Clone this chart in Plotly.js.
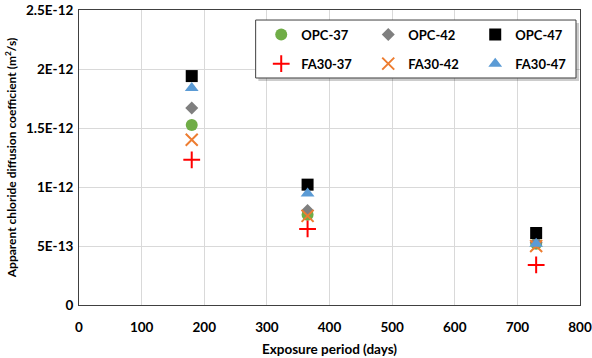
<!DOCTYPE html>
<html><head><meta charset="utf-8">
<script src="https://cdn.plot.ly/plotly-3.0.1.min.js"></script>
<style>html,body{margin:0;padding:0;background:#fff}#chart{width:592px;height:358px}</style>
</head><body><div id="chart"></div>
<script>
const days = [180, 365, 730];
const opc37 = [1.525e-12, 0.765e-12, 0.52e-12];
const opc42 = [1.67e-12, 0.80e-12, 0.53e-12];
const opc47 = [1.94e-12, 1.02e-12, 0.61e-12];
const fa37 = [1.23e-12, 0.645e-12, 0.34e-12];
const fa42 = [1.40e-12, 0.755e-12, 0.50e-12];
const fa47 = [1.84e-12, 0.945e-12, 0.52e-12];
const yTickVals = [0, 5e-13, 1e-12, 1.5e-12, 2e-12, 2.5e-12];
const yTickText = ['0', '5E-13', '1E-12', '1.5E-12', '2E-12', '2.5E-12'];

const FONT = 'Lato, "Open Sans", sans-serif';
function tr(name, y, symbol, color, size, legend) {
  return {x: days, y: y, name: name, type: 'scatter', mode: 'markers', legend: legend,
    marker: {symbol: symbol, color: color, size: size, line: {width: 0}}};
}
const data = [
  tr('OPC-37', opc37, 'circle', '#70ad47', 12, 'legend'),
  tr('OPC-42', opc42, 'diamond', '#7f7f7f', 10, 'legend'),
  tr('OPC-47', opc47, 'square', '#000000', 12, 'legend'),
  tr('FA30-37', fa37, 'cross-thin-open', '#ff0000', 12, 'legend2'),
  tr('FA30-42', fa42, 'x-thin-open', '#ed7d31', 12, 'legend2'),
  tr('FA30-47', fa47, 'triangle-up', '#5b9bd5', 12, 'legend2')
];
data[3].marker.line = {width: 2, color: '#ff0000'};
data[4].marker.line = {width: 2, color: '#ed7d31'};

const legCommon = {orientation: 'h', bgcolor: 'rgba(0,0,0,0)', borderwidth: 0,
  font: {family: FONT, size: 13, color: '#000', weight: 'bold'},
  entrywidth: 62, entrywidthmode: 'pixels',
  xref: 'paper', yref: 'paper', xanchor: 'left', yanchor: 'middle'};

const layout = {
  width: 592, height: 358,
  margin: {l: 79, r: 11, t: 10, b: 53},
  paper_bgcolor: '#fff', plot_bgcolor: '#fff',
  font: {family: FONT, size: 12, color: '#000'},
  showlegend: true,
  legend: Object.assign({}, legCommon, {x: 0.363, y: 0.917}),
  legend2: Object.assign({}, legCommon, {x: 0.363, y: 0.818}),
  xaxis: {range: [0, 800], dtick: 100, tick0: 0, showgrid: true, gridcolor: '#d9d9d9',
    showline: true, linecolor: '#404040', linewidth: 1, mirror: true, zeroline: false,
    ticks: '', ticklabelstandoff: 10, tickfont: {family: FONT, size: 13.5, weight: 'bold'},
    title: {text: 'Exposure period (days)', font: {family: FONT, size: 13.5, weight: 'bold'}, standoff: 10}},
  yaxis: {range: [0, 2.5e-12], tickvals: yTickVals, ticktext: yTickText, showgrid: true, gridcolor: '#d9d9d9',
    showline: true, linecolor: '#404040', linewidth: 1, mirror: true, zeroline: false,
    ticks: '', ticklabelstandoff: 2, tickfont: {family: FONT, size: 13.5, weight: 'bold'},
    title: {text: 'Apparent chloride diffusion coefficient (m<sup>2</sup>/s)', font: {family: FONT, size: 12, weight: 'bold'}, standoff: 6}},
  shapes: [
    {type: 'rect', xref: 'paper', yref: 'paper', x0: 0.358, x1: 0.998, y0: 0.759, y1: 0.956,
      line: {width: 0}, fillcolor: 'rgba(0,0,0,0.2)', layer: 'above'},
    {type: 'rect', xref: 'paper', yref: 'paper', x0: 0.3526, x1: 0.992, y0: 0.7695, y1: 0.966,
      line: {width: 1, color: '#404040'}, fillcolor: '#ffffff', layer: 'above'}
  ]
};
Plotly.newPlot('chart', data, layout, {displayModeBar: false, staticPlot: true});
</script>
</body></html>
